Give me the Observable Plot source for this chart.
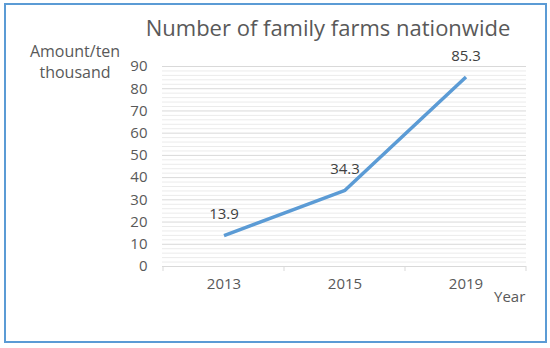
<!DOCTYPE html>
<html>
<head>
<meta charset="utf-8">
<script src="https://cdn.jsdelivr.net/npm/d3@7"></script>
<script src="https://cdn.jsdelivr.net/npm/@observablehq/plot@0.6"></script>
<style>
  html, body { margin: 0; padding: 0; background: #fff; }
  #wrap { position: relative; width: 550px; height: 348px; font-family: "Open Sans", "Noto Sans", sans-serif; color: #595959; }
  #frame { position: absolute; left: 4px; top: 3px; width: 539px; height: 336px; border: 2px solid #5b9bd5; }
  #title { position: absolute; left: 0; width: 656px; top: 12px; text-align: center; font-size: 22px; color: #595959; }
  #ytitle { position: absolute; left: 10px; width: 130px; top: 41px; text-align: center; font-size: 16px; line-height: 21px; color: #595959; }
  #xtitle { position: absolute; left: 494px; top: 286px; font-size: 15px; color: #595959; }
  #chart { position: absolute; left: 0; top: 0; }
</style>
</head>
<body>
<div id="wrap">
  <div id="frame"></div>
  <div id="title">Number of family farms nationwide</div>
  <div id="ytitle">Amount/ten<br>thousand</div>
  <div id="xtitle">Year</div>
  <div id="chart"></div>
</div>
<script>
const years = ["2013", "2015", "2019"];
const farms = [13.9, 34.3, 85.3];
const yMajorTicks = [0, 10, 20, 30, 40, 50, 60, 70, 80, 90];
const yMinorTicks = d3.range(0, 91, 2).filter(v => v % 10 !== 0);

const data = years.map((y, i) => ({year: y, value: farms[i]}));

const plot = Plot.plot({
  width: 550,
  height: 348,
  marginLeft: 162,
  marginRight: 24,
  marginTop: 66,
  marginBottom: 82,
  style: {fontFamily: "'Open Sans', 'Noto Sans', sans-serif", fontSize: "15px", color: "#595959", background: "transparent"},
  x: {type: "band", domain: years, padding: 0, label: null},
  y: {domain: [0, 90], label: null},
  marks: [
    Plot.ruleY(yMinorTicks, {stroke: "#ebebeb", strokeWidth: 1}),
    Plot.ruleY(yMajorTicks.filter(v => v > 0), {stroke: "#d9d9d9", strokeWidth: 1}),
    Plot.ruleY([0], {stroke: "#d9d9d9", strokeWidth: 1}),
    Plot.axisY({ticks: yMajorTicks, tickSize: 0, tickPadding: 15, fill: "#595959", fontSize: 15, label: null}),
    Plot.axisX({tickSize: 0, tickPadding: 12, fill: "#595959", fontSize: 15, label: null}),
    Plot.line(data, {x: "year", y: "value", stroke: "#5b9bd5", strokeWidth: 3.5, strokeLinejoin: "round", strokeLinecap: "butt"}),
    Plot.text(data, {x: "year", y: "value", text: d => d.value.toFixed(1), dy: -21, fill: "#404040", fontSize: 15})
  ]
});
document.getElementById("chart").appendChild(plot);

// tick marks at band boundaries on the x axis
const xs = plot.scale("x");
const ys = plot.scale("y");
const bounds = years.map(y => xs.apply(y)).concat([xs.apply(years[years.length - 1]) + xs.bandwidth]);
const y0 = ys.apply(0);
d3.select(plot).append("g")
  .selectAll("line")
  .data(bounds)
  .join("line")
  .attr("x1", d => d).attr("x2", d => d)
  .attr("y1", y0).attr("y2", y0 + 5)
  .attr("stroke", "#d9d9d9");
</script>
</body>
</html>
